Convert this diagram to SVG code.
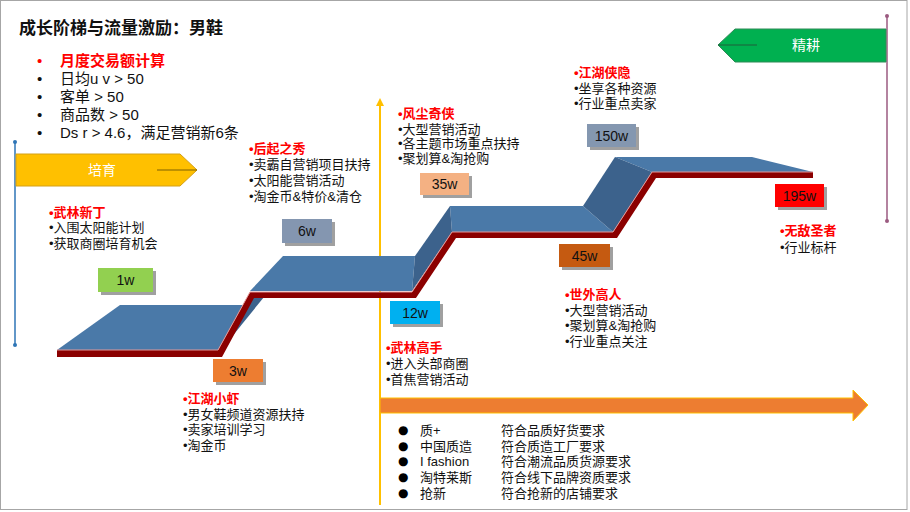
<svg xmlns="http://www.w3.org/2000/svg" width="910" height="512" viewBox="0 0 910 512">
<defs>
<style>
text{font-family:"Liberation Sans","Noto Sans CJK SC",sans-serif;fill:#111}
.t{font-size:13px}
.h{font-size:13px;fill:#ff0000;font-weight:bold}
.v{font-size:14px;text-anchor:middle;dominant-baseline:central}
.sh{fill:#808080;opacity:.75}
.top{fill:#4a79a8}
.dk{fill:#3c628c}
.l{font-size:15px}
.b{font-size:13px}
.d{font-size:12px;font-family:"DejaVu Sans",sans-serif;fill:#000}
</style>
<marker id="ya" viewBox="0 0 10 10" refX="5" refY="5" markerWidth="4" markerHeight="4" orient="auto"><path d="M0,0L10,5L0,10z" fill="#ffc000"/></marker>
</defs>
<rect x="0.5" y="0.5" width="906.5" height="509" fill="#fff" stroke="#a6a6a6"/>
<text x="19" y="34" style="font-size:17px;font-weight:bold">成长阶梯与流量激励：男鞋</text>
<g id="criteria">
<text x="37" y="66" class="l" style="fill:#ff0000">•</text>
<text x="60" y="66" class="l" style="fill:#ff0000;font-weight:bold">月度交易额计算</text>
<text x="37" y="84" class="l">•</text><text x="60" y="84" class="l">日均u v &gt; 50</text>
<text x="37" y="102" class="l">•</text><text x="60" y="102" class="l">客单 &gt; 50</text>
<text x="37" y="120" class="l">•</text><text x="60" y="120" class="l">商品数 &gt; 50</text>
<text x="37" y="138" class="l">•</text><text x="60" y="138" class="l">Ds r &gt; 4.6，满足营销新6条</text>
</g>
<g id="connectors">
<line x1="15" y1="142" x2="15" y2="345" stroke="#2e75b6" stroke-width="1.5"/>
<circle cx="15" cy="142" r="2" fill="#2e75b6"/><circle cx="15" cy="345" r="2" fill="#2e75b6"/>
<line x1="887" y1="16" x2="887" y2="221" stroke="#9b5a80" stroke-width="1.5"/>
<circle cx="887" cy="16" r="2" fill="#9b5a80"/><circle cx="887" cy="221" r="2" fill="#9b5a80"/>
<line x1="380" y1="505" x2="380" y2="102" stroke="#ffc000" stroke-width="2" marker-end="url(#ya)"/>
<polygon points="380,398 853,398 853,390 868,405 853,421 853,413 380,413" fill="#ed7d31" stroke="#ffc000" stroke-width="1"/>
</g>
<g id="peiyu">
<polygon points="16,154 180,154 197,170 180,186 16,186" fill="#ffc000" stroke="#d4a017" stroke-width="1"/>
<line x1="157" y1="170" x2="197" y2="170" stroke="#7f6000" stroke-width="1"/>
<text x="102" y="170" style="font-size:14px;fill:#fff;text-anchor:middle;dominant-baseline:central">培育</text>
</g>
<g id="jinggeng">
<polygon points="718,45 735,29 886,29 886,62 735,62" fill="#00b050" stroke="#2e8b57" stroke-width="1"/>
<line x1="718" y1="45" x2="757" y2="45" stroke="#1f5f3a" stroke-width="1"/>
<text x="806" y="45" style="font-size:14px;fill:#fff;text-anchor:middle;dominant-baseline:central">精耕</text>
</g>
<g id="stairs">
<polygon class="top" points="120,305 243,305 218,350 57,350"/>
<polygon class="top" points="283,256 415,256 412,291 250,291"/>
<polygon class="top" points="450,206 583,206 613,232 452,232"/>
<polygon class="top" points="615,157 752,157 813,172 652,172"/>
<polygon class="dk" points="415,256 450,206 452,232 412,291"/>
<polygon class="dk" points="583,206 615,157 652,172 613,232"/>
<polygon class="dk" points="252,297 264,297 226,344"/>
<polygon points="57,350 218,350 250,292 412,292 452,232 613,232 652,172 813,172 813,178 656,178 617,238 456,238 416,298 254,298 222,357 57,357" fill="#8b0000"/>
<polyline points="57,350 218,350 250,292 412,292 452,232 613,232 652,172 813,172" fill="none" stroke="#e39a9a" stroke-width="1"/>
</g>
<g id="v1w"><rect class="sh" x="101" y="271" width="55" height="24"/><rect x="98" y="268" width="55" height="24" fill="#92d050"/><text class="v" x="125.5" y="280">1w</text></g>
<g id="v3w"><rect class="sh" x="216" y="362" width="50" height="23"/><rect x="213" y="359" width="50" height="23" fill="#ed7d31"/><text class="v" x="238" y="370.5">3w</text></g>
<g id="v6w"><rect class="sh" x="285" y="222" width="50" height="24"/><rect x="282" y="219" width="50" height="24" fill="#8496b0"/><text class="v" x="307" y="231">6w</text></g>
<g id="v12w"><rect class="sh" x="393" y="304" width="50" height="23"/><rect x="390" y="301" width="50" height="23" fill="#00b0f0"/><text class="v" x="415" y="312.5">12w</text></g>
<g id="v35w"><rect class="sh" x="423" y="176" width="49" height="22"/><rect x="420" y="173" width="49" height="22" fill="#f4b183"/><text class="v" x="444.5" y="184">35w</text></g>
<g id="v45w"><rect class="sh" x="562" y="247" width="51" height="23"/><rect x="559" y="244" width="51" height="23" fill="#c55a11"/><text class="v" x="584.5" y="255.5">45w</text></g>
<g id="v150w"><rect class="sh" x="590" y="127" width="49" height="23"/><rect x="587" y="124" width="49" height="23" fill="#8497b0"/><text class="v" x="611.5" y="135.5">150w</text></g>
<g id="v195w"><rect class="sh" x="778" y="187" width="49" height="23"/><rect x="775" y="184" width="49" height="23" fill="#ff0000"/><text class="v" x="799.5" y="195.5">195w</text></g>
<g id="wulinxinding">
<text class="h" x="49" y="217">•武林新丁</text>
<text class="t" x="49" y="232">•入围太阳能计划</text>
<text class="t" x="49" y="248">•获取商圈培育机会</text>
</g>
<g id="houqizhixiu">
<text class="h" x="249" y="153">•后起之秀</text>
<text class="t" x="249" y="169">•卖霸自营销项目扶持</text>
<text class="t" x="249" y="185">•太阳能营销活动</text>
<text class="t" x="249" y="201">•淘金币&amp;特价&amp;清仓</text>
</g>
<g id="fengchenqixia">
<text class="h" x="398" y="118">•风尘奇侠</text>
<text class="t" x="398" y="134">•大型营销活动</text>
<text class="t" x="398" y="148">•各主题市场重点扶持</text>
<text class="t" x="398" y="163">•聚划算&amp;淘抢购</text>
</g>
<g id="jianghuxiayin">
<text class="h" x="574" y="77">•江湖侠隐</text>
<text class="t" x="574" y="93">•坐享各种资源</text>
<text class="t" x="574" y="108">•行业重点卖家</text>
</g>
<g id="wulingaoshou">
<text class="h" x="386" y="352">•武林高手</text>
<text class="t" x="386" y="368">•进入头部商圈</text>
<text class="t" x="386" y="384">•首焦营销活动</text>
</g>
<g id="jianghuxiaoxia">
<text class="h" x="183" y="403">•江湖小虾</text>
<text class="t" x="183" y="419">•男女鞋频道资源扶持</text>
<text class="t" x="183" y="434">•卖家培训学习</text>
<text class="t" x="183" y="450">•淘金币</text>
</g>
<g id="shiwaigaoren">
<text class="h" x="565" y="299">•世外高人</text>
<text class="t" x="565" y="315">•大型营销活动</text>
<text class="t" x="565" y="330">•聚划算&amp;淘抢购</text>
<text class="t" x="565" y="346">•行业重点关注</text>
</g>
<g id="wudishengzhe">
<text class="h" x="780" y="235">•无敌圣者</text>
<text class="t" x="780" y="252">•行业标杆</text>
</g>
<g id="channels">
<text class="d" x="398" y="434">●</text><text class="b" x="420" y="435">质+</text><text class="b" x="501" y="435">符合品质好货要求</text>
<text class="d" x="398" y="450">●</text><text class="b" x="420" y="451">中国质造</text><text class="b" x="501" y="451">符合质造工厂要求</text>
<text class="d" x="398" y="465">●</text><text class="b" x="420" y="466">I fashion</text><text class="b" x="501" y="466">符合潮流品质货源要求</text>
<text class="d" x="398" y="481">●</text><text class="b" x="420" y="482">淘特莱斯</text><text class="b" x="501" y="482">符合线下品牌资质要求</text>
<text class="d" x="398" y="497">●</text><text class="b" x="420" y="498">抢新</text><text class="b" x="501" y="498">符合抢新的店铺要求</text>
</g>
</svg>
